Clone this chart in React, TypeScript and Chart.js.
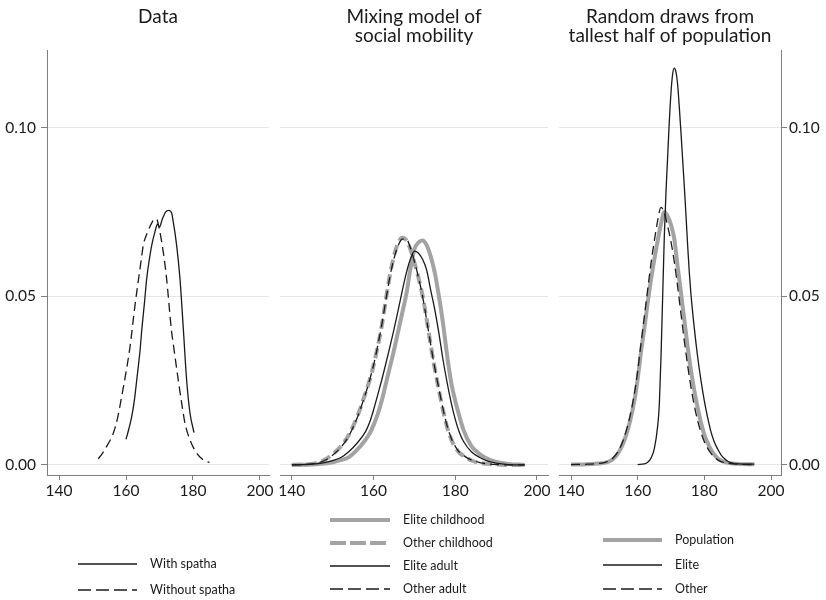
import React, { useEffect, useRef } from "react";
import { Chart, registerables } from "chart.js";

Chart.register(...registerables);

const W = 826;
const H = 600;
const FONT = "Lato, 'DejaVu Sans', sans-serif";
const TEXT = "#1a1a1a";
const AXIS = "#7f7f7f";
const GRID = "#e6e6e6";
const GRAY = "#a3a3a3";
const BLACK = "#1a1a1a";

// ---------- ticks ----------
const X_TICKS = [140, 160, 180, 200];
const Y_TICKS = [0, 0.05, 0.1];
const Y_MIN = -0.003;
const Y_MAX = 0.1231;

// ---------- Panel 1: Data ----------
const spathaX = [160.0, 160.8, 161.7, 162.5, 163.2, 164.2, 164.7, 165.5, 166.2, 167.0, 167.7, 168.6, 169.4, 170.0, 170.8, 171.8, 172.8, 173.6, 174.1, 175.1, 176.1, 177.1, 178.1, 179.1, 180.3];
const spathaY = [0.0076, 0.0105, 0.0143, 0.0192, 0.0252, 0.0341, 0.04, 0.048, 0.0555, 0.0612, 0.0653, 0.069, 0.0714, 0.0706, 0.0728, 0.075, 0.0755, 0.0748, 0.0722, 0.0653, 0.0554, 0.0406, 0.0252, 0.0154, 0.0096];
const noSpathaX = [151.7, 153.0, 154.5, 156.2, 157.5, 158.7, 160.0, 161.2, 162.7, 164.2, 165.2, 166.7, 167.7, 168.5, 169.2, 169.9, 171.1, 172.1, 173.6, 174.1, 175.6, 176.6, 177.6, 179.1, 181.1, 183.0, 184.9];
const noSpathaY = [0.0018, 0.0035, 0.006, 0.0094, 0.014, 0.0203, 0.0275, 0.0351, 0.0475, 0.0584, 0.0653, 0.0697, 0.0718, 0.073, 0.0728, 0.0702, 0.0633, 0.0554, 0.0396, 0.036, 0.0252, 0.0185, 0.0124, 0.0074, 0.0035, 0.0015, 0.0007];

// ---------- Panel 2: Mixing model ----------
const mixX = [140, 145, 148, 150, 152, 154, 156, 158, 159, 160, 161, 162, 163, 164, 165, 166, 167, 168, 169, 170, 171, 172, 173, 174, 175, 176, 177, 178, 179, 180, 181, 182, 184, 186, 188, 190, 193, 197];
const eliteChildY = [0, 0.0001, 0.0004, 0.0008, 0.0014, 0.0023, 0.0045, 0.0074, 0.0092, 0.0118, 0.015, 0.019, 0.024, 0.029, 0.034, 0.0395, 0.045, 0.0505, 0.058, 0.064, 0.066, 0.0666, 0.0652, 0.0618, 0.057, 0.05, 0.042, 0.0325, 0.0245, 0.019, 0.0145, 0.0104, 0.0055, 0.0032, 0.0017, 0.0009, 0.0003, 0];
const otherChildY = [0, 0.0003, 0.0015, 0.0032, 0.0055, 0.009, 0.0143, 0.0212, 0.025, 0.0295, 0.035, 0.0412, 0.049, 0.0563, 0.062, 0.0658, 0.0674, 0.0667, 0.064, 0.06, 0.0555, 0.0502, 0.0432, 0.0355, 0.0285, 0.0222, 0.0162, 0.0112, 0.0076, 0.0052, 0.0036, 0.0027, 0.0013, 0.0006, 0.0003, 0.0001, 0, 0];
const eliteAdultY = [0, 0.0002, 0.0007, 0.0013, 0.0022, 0.004, 0.0065, 0.0098, 0.0125, 0.0163, 0.0207, 0.0252, 0.03, 0.035, 0.0402, 0.0458, 0.0515, 0.0568, 0.061, 0.0634, 0.0628, 0.061, 0.0578, 0.0518, 0.046, 0.039, 0.0312, 0.0245, 0.0185, 0.0135, 0.0097, 0.007, 0.0038, 0.0022, 0.0011, 0.0005, 0.0001, 0];
const otherAdultY = [0, 0.0003, 0.0013, 0.0029, 0.0052, 0.0087, 0.014, 0.021, 0.025, 0.0296, 0.0352, 0.0415, 0.0488, 0.0558, 0.0612, 0.065, 0.067, 0.067, 0.0645, 0.0604, 0.0556, 0.05, 0.043, 0.0356, 0.0287, 0.0225, 0.0166, 0.0116, 0.008, 0.0055, 0.0038, 0.0028, 0.0014, 0.0007, 0.0003, 0.0001, 0, 0];

// ---------- Panel 3: Random draws ----------
const drawX = [140, 145, 148, 150, 152, 153, 154, 155, 156, 157, 158, 159, 160, 161, 162, 163, 164, 165, 166, 167, 168, 169, 170, 171, 172, 173, 174, 175, 176, 177, 178, 179, 180, 181, 182, 183, 184, 185, 187, 190, 195];
const populationY = [0.0001, 0.0002, 0.0004, 0.0006, 0.0013, 0.0021, 0.0033, 0.005, 0.0073, 0.0103, 0.0142, 0.019, 0.0255, 0.0335, 0.0405, 0.048, 0.055, 0.061, 0.0665, 0.0715, 0.075, 0.0738, 0.0712, 0.067, 0.0588, 0.051, 0.043, 0.035, 0.028, 0.022, 0.017, 0.0125, 0.009, 0.0065, 0.0045, 0.003, 0.002, 0.0013, 0.0006, 0.0003, 0.0002];
const otherDrawY = [0.0001, 0.0002, 0.0004, 0.0007, 0.0015, 0.0025, 0.0038, 0.0057, 0.0083, 0.0116, 0.0158, 0.021, 0.0278, 0.036, 0.044, 0.052, 0.0598, 0.0665, 0.0725, 0.0764, 0.0748, 0.0708, 0.0662, 0.0602, 0.0528, 0.0448, 0.0368, 0.0295, 0.023, 0.0176, 0.0131, 0.0096, 0.0069, 0.0049, 0.0034, 0.0023, 0.0015, 0.001, 0.0005, 0.0002, 0.0001];
const eliteDrawX = [160, 162, 163, 164, 165, 166, 166.5, 167, 167.5, 168, 168.5, 169, 169.5, 170, 170.5, 171, 171.5, 172, 172.5, 173, 173.5, 174, 174.5, 175, 175.5, 176, 177, 178, 179, 180, 181, 182, 183, 184, 185, 186, 187, 188, 190, 195];
const eliteDrawY = [0.0001, 0.0003, 0.0008, 0.002, 0.0048, 0.0115, 0.018, 0.032, 0.05, 0.068, 0.081, 0.0915, 0.102, 0.1105, 0.116, 0.1177, 0.1165, 0.1128, 0.106, 0.0985, 0.0905, 0.0825, 0.074, 0.065, 0.057, 0.0505, 0.0405, 0.032, 0.025, 0.019, 0.014, 0.0098, 0.0068, 0.0047, 0.003, 0.0019, 0.0011, 0.0007, 0.0003, 0.0002];

const pts = (xs: number[], ys: number[]) => xs.map((x, i) => ({ x, y: ys[i] }));

type Series = { label: string; xs: number[]; ys: number[]; color: string; width: number; dash: number[]; legendDash: number[]; order: number };
type Panel = {
  key: string;
  left: number;
  right: number;
  xMin: number;
  xMax: number;
  yAxis: "left" | "right" | "none";
  tickPad: number;
  title: string[];
  legend: { x1: number; x2: number; tx: number; rows: number[] };
  series: Series[];
};

const THIN = 1.3;
const THICK = 4;
const DASH = [9, 5];
const LDASH = [13, 5];

const PANELS: Panel[] = [
  {
    key: "data",
    left: 47,
    right: 269,
    xMin: 136.4,
    xMax: 202.7,
    yAxis: "left",
    tickPad: 5,
    title: ["Data"],
    legend: { x1: 78, x2: 137, tx: 150, rows: [564, 590] },
    series: [
      { label: "With spatha", xs: spathaX, ys: spathaY, color: BLACK, width: THIN, dash: [], legendDash: [], order: 1 },
      { label: "Without spatha", xs: noSpathaX, ys: noSpathaY, color: BLACK, width: THIN, dash: DASH, legendDash: LDASH, order: 2 },
    ],
  },
  {
    key: "mix",
    left: 280,
    right: 548,
    xMin: 137.1,
    xMax: 202.7,
    yAxis: "none",
    tickPad: 3,
    title: ["Mixing model of", "social mobility"],
    legend: { x1: 330, x2: 390, tx: 403, rows: [520, 543, 566, 589] },
    series: [
      { label: "Elite childhood", xs: mixX, ys: eliteChildY, color: GRAY, width: THICK, dash: [], legendDash: [], order: 4 },
      { label: "Other childhood", xs: mixX, ys: otherChildY, color: GRAY, width: THICK, dash: [10, 5], legendDash: [16, 4], order: 3 },
      { label: "Elite adult", xs: mixX, ys: eliteAdultY, color: BLACK, width: THIN, dash: [], legendDash: [], order: 2 },
      { label: "Other adult", xs: mixX, ys: otherAdultY, color: BLACK, width: THIN, dash: DASH, legendDash: LDASH, order: 1 },
    ],
  },
  {
    key: "draws",
    left: 559,
    right: 781,
    xMin: 136.4,
    xMax: 203.0,
    yAxis: "right",
    tickPad: 2,
    title: ["Random draws from", "tallest half of population"],
    legend: { x1: 603, x2: 662, tx: 675, rows: [540, 565, 589] },
    series: [
      { label: "Population", xs: drawX, ys: populationY, color: GRAY, width: THICK, dash: [], legendDash: [], order: 3 },
      { label: "Elite", xs: eliteDrawX, ys: eliteDrawY, color: BLACK, width: THIN, dash: [], legendDash: [], order: 2 },
      { label: "Other", xs: drawX, ys: otherDrawY, color: BLACK, width: THIN, dash: DASH, legendDash: LDASH, order: 1 },
    ],
  },
];

function makeDecor(p: Panel) {
  return {
    id: "panelDecor_" + p.key,
    afterDraw(chart: any) {
      const ctx: CanvasRenderingContext2D = chart.ctx;
      const area = chart.chartArea;
      ctx.save();
      ctx.fillStyle = TEXT;
      ctx.font = `19px ${FONT}`;
      ctx.textAlign = "center";
      ctx.textBaseline = "alphabetic";
      const cx = (area.left + area.right) / 2;
      p.title.forEach((t, i) => ctx.fillText(t, cx, 23 + i * 19));
      p.series.forEach((s, i) => {
        const y = p.legend.rows[i];
        ctx.strokeStyle = s.color;
        ctx.lineWidth = s.width;
        ctx.lineCap = "butt";
        ctx.setLineDash(s.legendDash);
        ctx.beginPath();
        ctx.moveTo(p.legend.x1, y);
        ctx.lineTo(p.legend.x2, y);
        ctx.stroke();
        ctx.setLineDash([]);
        ctx.fillStyle = TEXT;
        ctx.font = `12.5px ${FONT}`;
        ctx.textAlign = "left";
        ctx.textBaseline = "middle";
        ctx.fillText(s.label, p.legend.tx, y);
      });
      ctx.restore();
    },
  };
}

function makeConfig(p: Panel): any {
  const hasY = p.yAxis !== "none";
  return {
    type: "line",
    data: {
      datasets: p.series.map((s) => ({
        label: s.label,
        data: pts(s.xs, s.ys),
        borderColor: s.color,
        backgroundColor: s.color,
        borderWidth: s.width,
        borderDash: s.dash,
        pointRadius: 0,
        fill: false,
        cubicInterpolationMode: "monotone",
        order: s.order,
      })),
    },
    options: {
      responsive: false,
      animation: false,
      devicePixelRatio: 1,
      events: [],
      layout: {
        padding: {
          left: p.yAxis === "left" ? 0 : p.left,
          right: p.yAxis === "right" ? 0 : W - p.right,
          top: 50,
          bottom: 0,
        },
      },
      plugins: {
        legend: { display: false },
        title: { display: false },
        tooltip: { enabled: false },
      },
      scales: {
        x: {
          type: "linear",
          min: p.xMin,
          max: p.xMax,
          afterFit: (s: any) => {
            s.height = H - 475;
          },
          afterBuildTicks: (s: any) => {
            s.ticks = X_TICKS.map((v) => ({ value: v }));
          },
          grid: { drawOnChartArea: false, drawTicks: true, tickLength: 5, tickColor: AXIS },
          border: { display: true, color: AXIS, width: 1 },
          ticks: { color: TEXT, font: { family: FONT, size: 15.5 }, padding: 2, maxRotation: 0, autoSkip: false },
        },
        y: {
          type: "linear",
          position: p.yAxis === "right" ? "right" : "left",
          min: Y_MIN,
          max: Y_MAX,
          afterFit: (s: any) => {
            s.width = p.yAxis === "left" ? p.left : p.yAxis === "right" ? W - p.right : 0;
          },
          afterBuildTicks: (s: any) => {
            s.ticks = Y_TICKS.map((v) => ({ value: v }));
          },
          grid: { color: GRID, lineWidth: 1, drawTicks: hasY, tickLength: 6, tickColor: AXIS },
          border: { display: hasY, color: AXIS, width: 1 },
          ticks: {
            display: hasY,
            color: TEXT,
            font: { family: FONT, size: 15.5 },
            padding: p.tickPad,
            callback: (v: any) => Number(v).toFixed(2),
          },
        },
      },
    },
    plugins: [makeDecor(p)],
  };
}

export default function App() {
  const r0 = useRef<HTMLCanvasElement>(null);
  const r1 = useRef<HTMLCanvasElement>(null);
  const r2 = useRef<HTMLCanvasElement>(null);
  const refs = [r0, r1, r2];

  useEffect(() => {
    const charts = PANELS.map((p, i) => new Chart(refs[i].current as HTMLCanvasElement, makeConfig(p)));
    return () => charts.forEach((c) => c.destroy());
  }, []);

  return (
    <div style={{ position: "absolute", left: 0, top: 0, width: W, height: H, background: "#fff" }}>
      {PANELS.map((p, i) => (
        <canvas key={p.key} ref={refs[i]} width={W} height={H} style={{ position: "absolute", left: 0, top: 0 }} />
      ))}
    </div>
  );
}
